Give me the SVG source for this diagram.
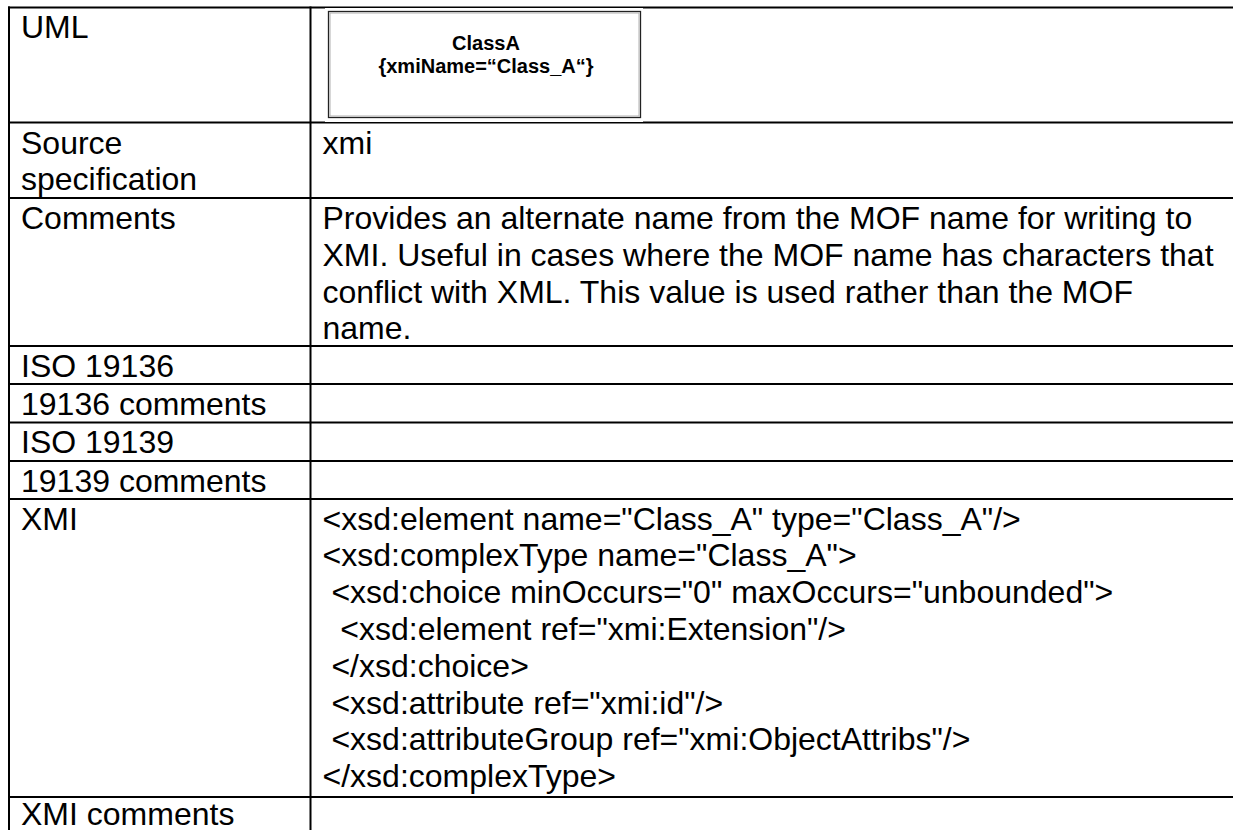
<svg xmlns="http://www.w3.org/2000/svg" width="1233" height="830" viewBox="0 0 1233 830">
  <style>
    .cell { font-family: "Liberation Sans", Arial, sans-serif; font-size: 32px; fill: #000; white-space: pre; }
    .grid { stroke: #000; stroke-width: 2; fill: none; }
    .cls { font-family: "Liberation Sans", Arial, sans-serif; font-size: 20px; font-weight: bold; fill: #000; text-anchor: middle; }
  </style>
  <rect x="0" y="0" width="1233" height="830" fill="#fff"/>

  <!-- table rules -->
  <g id="grid-lines" class="grid">
    <line x1="8" y1="7.5" x2="1233" y2="7.5"/>
    <line x1="8" y1="122.5" x2="1233" y2="122.5"/>
    <line x1="8" y1="198" x2="1233" y2="198"/>
    <line x1="8" y1="346" x2="1233" y2="346"/>
    <line x1="8" y1="384" x2="1233" y2="384"/>
    <line x1="8" y1="422.5" x2="1233" y2="422.5"/>
    <line x1="8" y1="461" x2="1233" y2="461"/>
    <line x1="8" y1="499" x2="1233" y2="499"/>
    <line x1="8" y1="797" x2="1233" y2="797"/>
    <line x1="9" y1="6.5" x2="9" y2="830"/>
    <line x1="310.5" y1="6.5" x2="310.5" y2="830"/>
  </g>

  <!-- UML row -->
  <g id="row-uml">
    <text class="cell" x="21" y="38">UML</text>
    <g id="class-a">
      <rect x="325" y="8" width="318" height="114" fill="#fff"/>
      <rect x="328.5" y="11.5" width="312" height="106" fill="#fff" stroke="#222" stroke-width="1.3"/>
      <rect x="330" y="13" width="309" height="103" fill="none" stroke="#b0b0b0" stroke-width="1"/>
      <text class="cls" x="486" y="50">ClassA</text>
      <text class="cls" x="486" y="73">{xmiName=“Class_A“}</text>
    </g>
  </g>

  <g id="row-source">
    <text class="cell" x="21" y="153.5">Source</text>
    <text class="cell" x="21" y="190.3">specification</text>
    <text class="cell" x="322.5" y="153.5">xmi</text>
  </g>

  <g id="row-comments">
    <text class="cell" x="21" y="229">Comments</text>
    <text class="cell" x="322.5" y="229">Provides an alternate name from the MOF name for writing to</text>
    <text class="cell" x="322.5" y="265.8">XMI. Useful in cases where the MOF name has characters that</text>
    <text class="cell" x="322.5" y="302.6">conflict with XML. This value is used rather than the MOF</text>
    <text class="cell" x="322.5" y="339.4">name.</text>
  </g>

  <g id="row-iso19136">
    <text class="cell" x="21" y="376.5">ISO 19136</text>
  </g>
  <g id="row-19136-comments">
    <text class="cell" x="21" y="414.5">19136 comments</text>
  </g>
  <g id="row-iso19139">
    <text class="cell" x="21" y="453">ISO 19139</text>
  </g>
  <g id="row-19139-comments">
    <text class="cell" x="21" y="491.5">19139 comments</text>
  </g>

  <g id="row-xmi">
    <text class="cell" x="21" y="529.5">XMI</text>
    <text class="cell" x="322.5" y="529.5">&lt;xsd:element name="Class_A" type="Class_A"/&gt;</text>
    <text class="cell" x="322.5" y="566.3">&lt;xsd:complexType name="Class_A"&gt;</text>
    <text class="cell" x="322.5" y="603.1"> &lt;xsd:choice minOccurs="0" maxOccurs="unbounded"&gt;</text>
    <text class="cell" x="322.5" y="639.9">  &lt;xsd:element ref="xmi:Extension"/&gt;</text>
    <text class="cell" x="322.5" y="676.7"> &lt;/xsd:choice&gt;</text>
    <text class="cell" x="322.5" y="713.5"> &lt;xsd:attribute ref="xmi:id"/&gt;</text>
    <text class="cell" x="322.5" y="750.3"> &lt;xsd:attributeGroup ref="xmi:ObjectAttribs"/&gt;</text>
    <text class="cell" x="322.5" y="787.1">&lt;/xsd:complexType&gt;</text>
  </g>

  <g id="row-xmi-comments">
    <text class="cell" x="21" y="825">XMI comments</text>
  </g>
</svg>
